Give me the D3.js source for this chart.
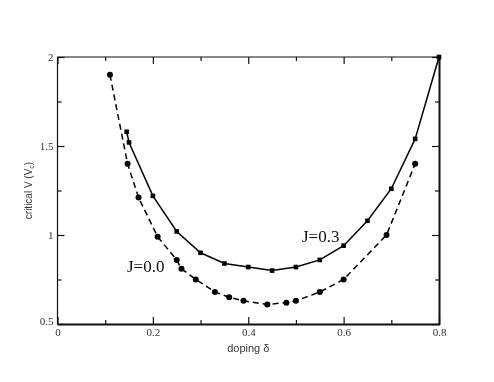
<!DOCTYPE html>
<html>
<head>
<meta charset="utf-8">
<script src="https://cdn.jsdelivr.net/npm/d3@7"></script>
<style>
  body { margin: 0; background: #fff; }
  svg { display: block; will-change: transform; }
</style>
</head>
<body>
<script>
const WIDTH = 494
const HEIGHT = 382

// J=0.3, solid line with squares
const dopingJ03 = [0.145, 0.15, 0.2, 0.25, 0.3, 0.35, 0.4, 0.45, 0.5, 0.55, 0.6, 0.65, 0.7, 0.75, 0.8]
const vcJ03 = [1.58, 1.52, 1.22, 1.02, 0.9, 0.84, 0.82, 0.8, 0.82, 0.86, 0.94, 1.08, 1.26, 1.54, 2.0]

// J=0.0, dashed line with circles
const dopingJ00 = [0.11, 0.147, 0.17, 0.21, 0.25, 0.26, 0.29, 0.33, 0.36, 0.39, 0.44, 0.48, 0.5, 0.55, 0.6, 0.69, 0.75]
const vcJ00 = [1.9, 1.4, 1.21, 0.99, 0.86, 0.81, 0.75, 0.68, 0.65, 0.63, 0.61, 0.62, 0.63, 0.68, 0.75, 1.0, 1.4]

const xMajor = [0, 0.2, 0.4, 0.6, 0.8]
const xMinor = [0.1, 0.3, 0.5, 0.7]
const yMajor = [0.5, 1, 1.5, 2]
const yMinor = [0.75, 1.25, 1.75]

const margin = { left: 57.5, right: 55, top: 57, bottom: 58 }

const svg = d3.select('body').append('svg')
  .attr('width', WIDTH)
  .attr('height', HEIGHT)

const x = d3.scaleLinear().domain([0, 0.8]).range([margin.left, WIDTH - margin.right])
const y = d3.scaleLinear().domain([0.5, 2]).range([HEIGHT - margin.bottom, margin.top])

const serif = '"Liberation Serif", "Times New Roman", serif'
const sans = '"Liberation Sans", Arial, sans-serif'

// ticks pointing inward on all four sides
const inner = (axis, size) => axis.tickSizeInner(-size).tickSizeOuter(0)

const axisB = svg.append('g').attr('transform', `translate(0,${y(0.5)})`)
axisB.call(inner(d3.axisBottom(x).tickValues(xMajor).tickFormat(d => d === 0 ? '0' : d3.format('.1f')(d)), 7).tickPadding(4))
svg.append('g').attr('transform', `translate(0,${y(0.5)})`)
  .call(inner(d3.axisBottom(x).tickValues(xMinor).tickFormat(''), 4))

svg.append('g').attr('transform', `translate(0,${y(2)})`)
  .call(inner(d3.axisTop(x).tickValues(xMajor).tickFormat(''), 7))
svg.append('g').attr('transform', `translate(0,${y(2)})`)
  .call(inner(d3.axisTop(x).tickValues(xMinor).tickFormat(''), 4))

const axisL = svg.append('g').attr('transform', `translate(${x(0)},0)`)
axisL.call(inner(d3.axisLeft(y).tickValues(yMajor).tickFormat(d => d === 2 || d === 1 ? String(d) : d3.format('.1f')(d)), 7).tickPadding(4))
svg.append('g').attr('transform', `translate(${x(0)},0)`)
  .call(inner(d3.axisLeft(y).tickValues(yMinor).tickFormat(''), 4))

svg.append('g').attr('transform', `translate(${x(0.8)},0)`)
  .call(inner(d3.axisRight(y).tickValues(yMajor).tickFormat(''), 7))
svg.append('g').attr('transform', `translate(${x(0.8)},0)`)
  .call(inner(d3.axisRight(y).tickValues(yMinor).tickFormat(''), 4))

svg.selectAll('.domain').remove()
svg.selectAll('.tick line').attr('stroke', '#111').attr('stroke-width', 1.2)
svg.selectAll('.tick text')
  .attr('font-family', serif)
  .attr('font-size', 11)
  .attr('fill', '#333')

// nudge the 0.5 y label up a bit, like the original
axisL.selectAll('.tick text').filter(d => d === 0.5).attr('dy', '0.05em')

// frame, right and bottom edges drawn heavier
const x0 = x(0), x1 = x(0.8), y0 = y(0.5), y1 = y(2)
svg.append('line').attr('x1', x0).attr('x2', x1).attr('y1', y1).attr('y2', y1).attr('stroke', '#111').attr('stroke-width', 1.2)
svg.append('line').attr('x1', x0).attr('x2', x0).attr('y1', y1).attr('y2', y0).attr('stroke', '#111').attr('stroke-width', 1.2)
svg.append('line').attr('x1', x0).attr('x2', x1 + 1).attr('y1', y0 + 0.5).attr('y2', y0 + 0.5).attr('stroke', '#111').attr('stroke-width', 2)
svg.append('line').attr('x1', x1 + 0.5).attr('x2', x1 + 0.5).attr('y1', y1).attr('y2', y0 + 1).attr('stroke', '#111').attr('stroke-width', 2)

const line = d3.line().x(d => x(d[0])).y(d => y(d[1]))

const j03 = d3.zip(dopingJ03, vcJ03)
const j00 = d3.zip(dopingJ00, vcJ00)

svg.append('path')
  .datum(j03)
  .attr('d', line)
  .attr('fill', 'none')
  .attr('stroke', '#000')
  .attr('stroke-width', 1.5)

svg.append('path')
  .datum(j00)
  .attr('d', line)
  .attr('fill', 'none')
  .attr('stroke', '#000')
  .attr('stroke-width', 1.5)
  .attr('stroke-dasharray', '6,4')

svg.selectAll('rect.sq')
  .data(j03)
  .join('rect')
  .attr('class', 'sq')
  .attr('x', d => x(d[0]) - 2.3)
  .attr('y', d => y(d[1]) - 2.3)
  .attr('width', 4.6)
  .attr('height', 4.6)
  .attr('fill', '#000')

svg.selectAll('circle.dot')
  .data(j00)
  .join('circle')
  .attr('class', 'dot')
  .attr('cx', d => x(d[0]))
  .attr('cy', d => y(d[1]))
  .attr('r', 3)
  .attr('fill', '#000')

// curve labels
svg.append('text')
  .attr('x', 302).attr('y', 242)
  .attr('font-family', serif).attr('font-size', 17)
  .attr('fill', '#111')
  .text('J=0.3')

svg.append('text')
  .attr('x', 127).attr('y', 272)
  .attr('font-family', serif).attr('font-size', 17)
  .attr('fill', '#111')
  .text('J=0.0')

// axis titles
svg.append('text')
  .attr('x', (x0 + x1) / 2).attr('y', 352)
  .attr('text-anchor', 'middle')
  .attr('font-family', sans).attr('font-size', 11)
  .attr('fill', '#333')
  .text('doping  δ')

const yTitle = svg.append('text')
  .attr('transform', `translate(32,${(y0 + y1) / 2}) rotate(-90)`)
  .attr('text-anchor', 'middle')
  .attr('font-family', sans).attr('font-size', 10)
  .attr('fill', '#333')
yTitle.append('tspan').text('critical V (V')
yTitle.append('tspan').attr('font-size', 7).attr('dy', 2).text('c')
yTitle.append('tspan').attr('dy', -2).text(')')
</script>
</body>
</html>
